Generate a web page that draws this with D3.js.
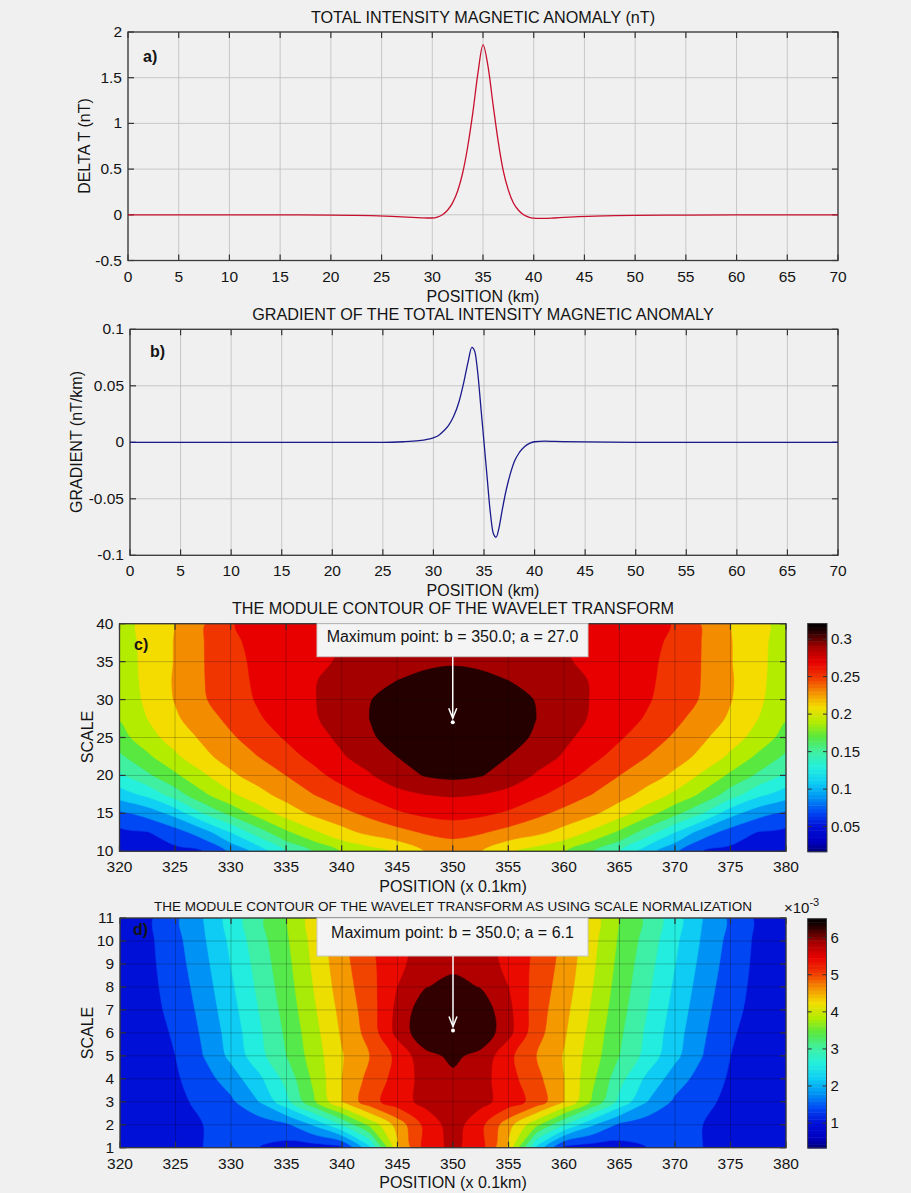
<!DOCTYPE html>
<html><head><meta charset="utf-8">
<script src="https://cdn.jsdelivr.net/npm/d3@7"></script>
<style>
body{margin:0;background:#f0f0f0;}
svg text{font-family:"Liberation Sans",Arial,sans-serif;fill:#141414;}
</style></head><body>
<svg id="chart" width="911" height="1193"></svg>
<script>
// ---------- DATA ----------
const posA = [0,5,10,15,20,22,24,26,27,28,29,29.5,30,30.5,31,31.5,32,32.5,33,33.5,34,34.5,35,35.5,36,36.5,37,37.5,38,38.5,39,39.5,40,40.5,41,42,43,44,46,48,50,55,60,65,70];
const deltaT = [0,0,0,0,-0.003,-0.006,-0.01,-0.017,-0.022,-0.028,-0.033,-0.035,-0.035,-0.025,0.0,0.05,0.13,0.26,0.46,0.75,1.12,1.55,1.86,1.62,1.2,0.8,0.48,0.27,0.13,0.05,0.0,-0.025,-0.037,-0.04,-0.04,-0.035,-0.028,-0.022,-0.014,-0.009,-0.006,-0.003,-0.001,0,0];
const posB = [0,5,10,15,20,25,27,28,29,30,30.5,31,31.5,32,32.5,33,33.4,33.8,34.1,34.4,34.7,35,35.3,35.6,35.9,36.2,36.5,36.8,37.2,37.6,38,38.5,39,39.5,40,41,42,45,50,55,60,65,70];
const gradientB = [0,0,0,0,0,0,0.0005,0.001,0.002,0.004,0.006,0.01,0.015,0.023,0.035,0.053,0.07,0.084,0.08,0.06,0.03,0,-0.03,-0.06,-0.08,-0.084,-0.075,-0.06,-0.042,-0.028,-0.017,-0.009,-0.004,-0.001,0.0005,0.001,0.0008,0.0003,0,0,0,0,0];
const xTicksKm = [0,5,10,15,20,25,30,35,40,45,50,55,60,65,70];
const yTicksA = [-0.5,0,0.5,1,1.5,2];
const yTicksB = [-0.1,-0.05,0,0.05,0.1];

const posGrid = [320,322.5,325,327.5,330,332.5,335,337.5,340,342.5,345,347.5,350,352.5,355,357.5,360,362.5,365,367.5,370,372.5,375,377.5,380];
const scaleGridC = [10,12.5,15,17.5,20,22.5,25,27.5,30,32.5,35,37.5,40];
const moduleC = [
[0.045,0.050,0.055,0.060,0.083,0.107,0.140,0.161,0.181,0.191,0.203,0.2205,0.226,0.2205,0.203,0.191,0.181,0.161,0.140,0.107,0.083,0.060,0.055,0.050,0.045],
[0.055,0.059,0.071,0.090,0.120,0.150,0.176,0.196,0.213,0.225,0.233,0.242,0.247,0.242,0.233,0.225,0.213,0.196,0.176,0.150,0.120,0.090,0.071,0.059,0.055],
[0.075,0.087,0.107,0.140,0.165,0.188,0.208,0.224,0.234,0.245,0.257,0.264,0.267,0.264,0.257,0.245,0.234,0.224,0.208,0.188,0.165,0.140,0.107,0.087,0.075],
[0.110,0.125,0.150,0.176,0.196,0.213,0.228,0.240,0.252,0.264,0.274,0.280,0.282,0.280,0.274,0.264,0.252,0.240,0.228,0.213,0.196,0.176,0.150,0.125,0.110],
[0.136,0.156,0.176,0.196,0.216,0.229,0.240,0.254,0.267,0.278,0.291,0.301,0.305,0.301,0.291,0.278,0.267,0.254,0.240,0.229,0.216,0.196,0.176,0.156,0.136],
[0.156,0.176,0.196,0.215,0.228,0.240,0.253,0.265,0.278,0.289,0.300,0.307,0.312,0.307,0.300,0.289,0.278,0.265,0.253,0.240,0.228,0.215,0.196,0.176,0.156],
[0.172,0.192,0.209,0.223,0.237,0.250,0.262,0.273,0.284,0.297,0.308,0.315,0.318,0.315,0.308,0.297,0.284,0.273,0.262,0.250,0.237,0.223,0.209,0.192,0.172],
[0.181,0.200,0.217,0.231,0.245,0.258,0.268,0.278,0.289,0.300,0.311,0.317,0.320,0.317,0.311,0.300,0.289,0.278,0.268,0.258,0.245,0.231,0.217,0.200,0.181],
[0.185,0.204,0.221,0.238,0.250,0.262,0.271,0.279,0.289,0.299,0.309,0.316,0.318,0.316,0.309,0.299,0.289,0.279,0.271,0.262,0.250,0.238,0.221,0.204,0.185],
[0.188,0.205,0.222,0.239,0.251,0.264,0.271,0.279,0.286,0.293,0.300,0.306,0.310,0.306,0.300,0.293,0.286,0.279,0.271,0.264,0.251,0.239,0.222,0.205,0.188],
[0.190,0.205,0.221,0.239,0.254,0.264,0.270,0.276,0.282,0.288,0.292,0.295,0.297,0.295,0.292,0.288,0.282,0.276,0.270,0.264,0.254,0.239,0.221,0.205,0.190],
[0.191,0.205,0.221,0.239,0.257,0.264,0.269,0.274,0.280,0.286,0.291,0.294,0.296,0.294,0.291,0.286,0.280,0.274,0.269,0.264,0.257,0.239,0.221,0.205,0.191],
[0.193,0.205,0.220,0.238,0.259,0.265,0.269,0.274,0.279,0.284,0.289,0.292,0.294,0.292,0.289,0.284,0.279,0.274,0.269,0.265,0.259,0.238,0.220,0.205,0.193]
];
const scaleGridD = [1,2,3,4,5,6,7,8,9,10,11];
// values in units of 1e-3
const moduleD = [
[1.0,1.05,1.1,1.2,1.3,1.2,1.05,1.0,1.1,2.3,4.3,5.35,5.7,5.35,4.3,2.3,1.1,1.0,1.05,1.2,1.3,1.2,1.1,1.05,1.0],
[1.0,1.05,1.1,1.2,1.27,1.35,1.52,2.05,2.8,3.7,4.55,5.3,5.8,5.3,4.55,3.7,2.8,2.05,1.52,1.35,1.27,1.2,1.1,1.05,1.0],
[0.95,1.02,1.1,1.3,1.52,2.0,2.68,3.55,4.4,5.05,5.42,5.72,5.85,5.72,5.42,5.05,4.4,3.55,2.68,2.0,1.52,1.3,1.1,1.02,0.95],
[0.95,1.03,1.15,1.42,1.8,2.3,2.93,3.7,4.4,4.92,5.35,5.75,5.92,5.75,5.35,4.92,4.4,3.7,2.93,2.3,1.8,1.42,1.15,1.03,0.95],
[0.95,1.05,1.2,1.6,2.1,2.65,3.2,3.8,4.37,4.8,5.3,5.88,6.08,5.88,5.3,4.8,4.37,3.8,3.2,2.65,2.1,1.6,1.2,1.05,0.95],
[0.95,1.06,1.24,1.66,2.17,2.72,3.27,3.87,4.45,4.95,5.72,6.3,6.5,6.3,5.72,4.95,4.45,3.87,3.27,2.72,2.17,1.66,1.24,1.06,0.95],
[0.96,1.08,1.3,1.73,2.25,2.8,3.35,3.95,4.52,5.0,5.7,6.25,6.42,6.25,5.7,5.0,4.52,3.95,3.35,2.8,2.25,1.73,1.3,1.08,0.96],
[0.96,1.09,1.36,1.8,2.33,2.88,3.42,4.02,4.6,5.05,5.6,5.98,6.12,5.98,5.6,5.05,4.6,4.02,3.42,2.88,2.33,1.8,1.36,1.09,0.96],
[0.95,1.1,1.42,1.87,2.41,2.95,3.48,4.08,4.66,5.1,5.5,5.8,5.9,5.8,5.5,5.1,4.66,4.08,3.48,2.95,2.41,1.87,1.42,1.1,0.95],
[0.95,1.11,1.47,1.94,2.48,3.03,3.54,4.13,4.71,5.15,5.5,5.7,5.78,5.7,5.5,5.15,4.71,4.13,3.54,3.03,2.48,1.94,1.47,1.11,0.95],
[0.95,1.12,1.52,2.0,2.56,3.1,3.6,4.18,4.75,5.2,5.45,5.58,5.62,5.58,5.45,5.2,4.75,4.18,3.6,3.1,2.56,2.0,1.52,1.12,0.95]
];
const levelsC = [0.02,0.04,0.06,0.08,0.10,0.12,0.14,0.16,0.18,0.20,0.22,0.24,0.26,0.28,0.30];
const levelsD = [0.8,1.2,1.6,2.0,2.4,2.8,3.2,3.6,4.0,4.4,4.8,5.2,5.6,6.0];
const climC = [0.0167,0.3207];
const climD = [0.33,6.51];
const xTicksPos = [320,325,330,335,340,345,350,355,360,365,370,375,380];
const yTicksC = [10,15,20,25,30,35,40];
const yTicksD = [1,2,3,4,5,6,7,8,9,10,11];
const cbTicksC = [0.05,0.1,0.15,0.2,0.25,0.3];
const cbTicksD = [1,2,3,4,5,6];
const maxPointC = {b:350.0, a:27.0};
const maxPointD = {b:350.0, a:6.1};

// ---------- COLORMAP ----------
const cmapT = [0,0.005,0.044,0.11,0.175,0.241,0.307,0.373,0.439,0.504,0.57,0.636,0.702,0.768,0.833,0.899,0.965,1];
const cmapC = ["#000060","#000080","#0000c0","#0010d8","#0048f4","#0096f4","#10d0f4","#24f0dc","#40f0a0","#58e840","#b4ec00","#f4dc00","#f48c00","#f03400","#e80000","#a40000","#260000","#000000"];
function makeCmap(clim){
  return d3.scaleLinear().domain(cmapT.map(t=>clim[0]+t*(clim[1]-clim[0]))).range(cmapC).clamp(true);
}

const svg = d3.select("#chart");
svg.append("rect").attr("width",911).attr("height",1193).attr("fill","#f0f0f0");

const FS = 15.5, TFS = 16.2, LFS = 16;
function fmt(v){ return String(+v.toFixed(4)); }

function axesFrame(g, x, y, xt, yt, opt){
  const [x0,x1] = x.range(), [y0,y1] = y.range();
  const gg = g.append("g");
  gg.selectAll(".gx").data(xt).join("line").attr("x1",d=>x(d)).attr("x2",d=>x(d)).attr("y1",y1).attr("y2",y0)
    .attr("stroke",opt.gridColor).attr("stroke-opacity",opt.gridOpacity).attr("stroke-width",1);
  gg.selectAll(".gy").data(yt).join("line").attr("y1",d=>y(d)).attr("y2",d=>y(d)).attr("x1",x0).attr("x2",x1)
    .attr("stroke",opt.gridColor).attr("stroke-opacity",opt.gridOpacity).attr("stroke-width",1);
  const tl = 6;
  xt.forEach(d=>{
    gg.append("line").attr("x1",x(d)).attr("x2",x(d)).attr("y1",y0).attr("y2",y0-tl).attr("stroke","#333").attr("stroke-width",1.2);
    gg.append("line").attr("x1",x(d)).attr("x2",x(d)).attr("y1",y1).attr("y2",y1+tl).attr("stroke","#333").attr("stroke-width",1.2);
  });
  yt.forEach(d=>{
    gg.append("line").attr("y1",y(d)).attr("y2",y(d)).attr("x1",x0).attr("x2",x0+tl).attr("stroke","#333").attr("stroke-width",1.2);
    gg.append("line").attr("y1",y(d)).attr("y2",y(d)).attr("x1",x1).attr("x2",x1-tl).attr("stroke","#333").attr("stroke-width",1.2);
  });
  gg.append("rect").attr("x",x0).attr("y",y1).attr("width",x1-x0).attr("height",y0-y1)
    .attr("fill","none").attr("stroke","#3a3a3a").attr("stroke-width",1.3);
  g.selectAll(".xl").data(xt).join("text").attr("x",d=>x(d)).attr("y",y0+opt.xLabDy)
    .attr("text-anchor","middle").attr("font-size",FS).text(d=>fmt(d));
  g.selectAll(".yl").data(yt).join("text").attr("x",x0-6).attr("y",d=>y(d)+5)
    .attr("text-anchor","end").attr("font-size",FS).text(d=>fmt(d));
}

function titles(g, cx, title, titleY, titleFs, xlab, xlabY, ylab, ylabX, ylabY){
  g.append("text").attr("x",cx).attr("y",titleY).attr("text-anchor","middle").attr("font-size",titleFs).text(title);
  g.append("text").attr("x",cx).attr("y",xlabY).attr("text-anchor","middle").attr("font-size",LFS).text(xlab);
  g.append("text").attr("transform",`translate(${ylabX},${ylabY}) rotate(-90)`).attr("text-anchor","middle").attr("font-size",LFS).text(ylab);
}

// ---------- PANEL A ----------
{
  const x = d3.scaleLinear().domain([0,70]).range([128,838]);
  const y = d3.scaleLinear().domain([-0.5,2]).range([260.5,32]);
  const g = svg.append("g");
  axesFrame(g,x,y,xTicksKm,yTicksA,{gridColor:"#bdbdbd",gridOpacity:0.8,xLabDy:21});
  g.append("path").datum(posA.map((p,i)=>[p,deltaT[i]]))
    .attr("d",d3.line().x(d=>x(d[0])).y(d=>y(d[1])).curve(d3.curveMonotoneX))
    .attr("fill","none").attr("stroke","#c8102e").attr("stroke-width",1.3);
  g.append("text").attr("x",143).attr("y",62).attr("font-size",16).attr("font-weight","bold").text("a)");
  titles(g,483,"TOTAL INTENSITY MAGNETIC ANOMALY (nT)",23,TFS,"POSITION (km)",302,"DELTA T (nT)",90,146);
}
// ---------- PANEL B ----------
{
  const x = d3.scaleLinear().domain([0,70]).range([130,838]);
  const y = d3.scaleLinear().domain([-0.1,0.1]).range([555.3,329.3]);
  const g = svg.append("g");
  axesFrame(g,x,y,xTicksKm,yTicksB,{gridColor:"#bdbdbd",gridOpacity:0.8,xLabDy:21});
  g.append("path").datum(posB.map((p,i)=>[p,gradientB[i]]))
    .attr("d",d3.line().x(d=>x(d[0])).y(d=>y(d[1])).curve(d3.curveMonotoneX))
    .attr("fill","none").attr("stroke","#1a1a8c").attr("stroke-width",1.3);
  g.append("text").attr("x",150).attr("y",357).attr("font-size",16).attr("font-weight","bold").text("b)");
  titles(g,483,"GRADIENT OF THE TOTAL INTENSITY MAGNETIC ANOMALY",320,TFS,"POSITION (km)",596,"GRADIENT (nT/km)",82,442);
}

// ---------- CONTOUR PANELS ----------
function contourPanel(cfg){
  const {x,y,grid,xs,ys,levels,clim,id} = cfg;
  const cmap = makeCmap(clim);
  const bandColor = (i)=> {
    const lo = i<0 ? clim[0] : levels[i];
    const hi = i+1<levels.length ? levels[i+1] : clim[1];
    return cmap((lo+hi)/2);
  };
  const g = svg.append("g");
  const [x0,x1] = x.range(), [y0,y1] = y.range();
  g.append("clipPath").attr("id",id).append("rect").attr("x",x0).attr("y",y1).attr("width",x1-x0).attr("height",y0-y1);
  const cg = g.append("g").attr("clip-path",`url(#${id})`);
  const n = xs.length, m = ys.length;
  const flat = [];
  for (let j=0;j<m;j++) for (let i=0;i<n;i++) flat.push(grid[j][i]);
  const dx = xs[1]-xs[0], dy = ys[1]-ys[0];
  const toPx = ([px,py]) => [x(xs[0]+(px-0.5)*dx), y(ys[0]+(py-0.5)*dy)];
  const ringLine = d3.line().curve(d3.curveCatmullRomClosed.alpha(0.5));
  const pathD = c => c.coordinates.map(poly => poly.map(ring => ringLine(ring.slice(0,-1).map(toPx))).join("")).join("");
  const conts = d3.contours().size([n,m]).thresholds(levels)(flat);
  cg.append("rect").attr("x",x0).attr("y",y1).attr("width",x1-x0).attr("height",y0-y1).attr("fill",bandColor(-1));
  cg.selectAll("path.band").data(conts).join("path").attr("class","band").attr("d",pathD)
    .attr("fill-rule","evenodd")
    .attr("fill",c=>bandColor(levels.indexOf(c.value))).attr("stroke",c=>bandColor(levels.indexOf(c.value))).attr("stroke-width",0.6);
  axesFrame(g,x,y,cfg.xt,cfg.yt,{gridColor:"#000",gridOpacity:0.22,xLabDy:21});
  // colorbar
  const cb = cfg.cb;
  const cy = d3.scaleLinear().domain(clim).range([cb.y1,cb.y0]);
  const N = 64;
  for (let k=0;k<N;k++){
    const v0 = clim[0]+k*(clim[1]-clim[0])/N, v1 = clim[0]+(k+1)*(clim[1]-clim[0])/N;
    g.append("rect").attr("x",cb.x0).attr("y",cy(v1)).attr("width",cb.x1-cb.x0).attr("height",cy(v0)-cy(v1)+0.5)
      .attr("fill",cmap((v0+v1)/2));
  }
  g.append("rect").attr("x",cb.x0).attr("y",cb.y0).attr("width",cb.x1-cb.x0).attr("height",cb.y1-cb.y0)
    .attr("fill","none").attr("stroke","#3a3a3a").attr("stroke-width",1);
  cfg.cbt.forEach(t=>{
    g.append("line").attr("x1",cb.x1).attr("x2",cb.x1-4).attr("y1",cy(t)).attr("y2",cy(t)).attr("stroke","#333");
    g.append("line").attr("x1",cb.x0).attr("x2",cb.x0+4).attr("y1",cy(t)).attr("y2",cy(t)).attr("stroke","#333");
    g.append("text").attr("x",cb.x1+4).attr("y",cy(t)+5).attr("font-size",15).text(fmt(t));
  });
  const mp = cfg.mp, bx = cfg.box;
  g.append("rect").attr("x",bx.x).attr("y",bx.y).attr("width",bx.w).attr("height",bx.h)
    .attr("fill","#f4f4f4").attr("stroke","#c8c8c8").attr("stroke-width",1);
  g.append("text").attr("x",bx.x+bx.w/2).attr("y",bx.y+bx.ty).attr("text-anchor","middle").attr("font-size",16)
    .text(`Maximum point: b = ${mp.b.toFixed(1)}; a = ${mp.a.toFixed(1)}`);
  const px = x(mp.b), py = y(mp.a);
  g.append("line").attr("x1",px).attr("x2",px).attr("y1",bx.y+bx.h).attr("y2",py-4).attr("stroke","#fff").attr("stroke-width",1.5);
  g.append("path").attr("d",`M${px-4},${py-14} L${px},${py-4} L${px+4},${py-14}`).attr("fill","none").attr("stroke","#fff").attr("stroke-width",1.5);
  g.append("circle").attr("cx",px).attr("cy",py).attr("r",2).attr("fill","#fff");
  return g;
}

{
  const x = d3.scaleLinear().domain([320,380]).range([119.5,786]);
  const y = d3.scaleLinear().domain([10,40]).range([851.3,623.7]);
  const g = contourPanel({x,y,grid:moduleC,xs:posGrid,ys:scaleGridC,levels:levelsC,clim:climC,id:"clipC",
    xt:xTicksPos,yt:yTicksC,cbt:cbTicksC,cb:{x0:807.7,x1:827,y0:623.5,y1:851.7},mp:maxPointC,
    box:{x:317,y:623.7,w:271,h:33,ty:18}});
  g.append("text").attr("x",134).attr("y",650).attr("font-size",16).attr("font-weight","bold").text("c)");
  titles(g,453,"THE MODULE CONTOUR OF THE WAVELET TRANSFORM",614,TFS,"POSITION (x 0.1km)",892,"SCALE",93,737);
}
{
  const x = d3.scaleLinear().domain([320,380]).range([120,786]);
  const y = d3.scaleLinear().domain([1,11]).range([1147.7,918]);
  const g = contourPanel({x,y,grid:moduleD,xs:posGrid,ys:scaleGridD,levels:levelsD,clim:climD,id:"clipD",
    xt:xTicksPos,yt:yTicksD,cbt:cbTicksD,cb:{x0:807.7,x1:826.5,y0:918.7,y1:1148},mp:maxPointD,
    box:{x:317,y:918,w:271,h:38,ty:20}});
  g.append("text").attr("x",133).attr("y",935).attr("font-size",16).attr("font-weight","bold").text("d)");
  titles(g,453,"THE MODULE CONTOUR OF THE WAVELET TRANSFORM AS USING SCALE NORMALIZATION",911,13.5,"POSITION (x 0.1km)",1188,"SCALE",93,1033);
  const t = g.append("text").attr("x",784).attr("y",913).attr("font-size",15);
  t.append("tspan").text("\u00d710");
  t.append("tspan").attr("dy",-7).attr("font-size",11).text("-3");
}
</script></body></html>
